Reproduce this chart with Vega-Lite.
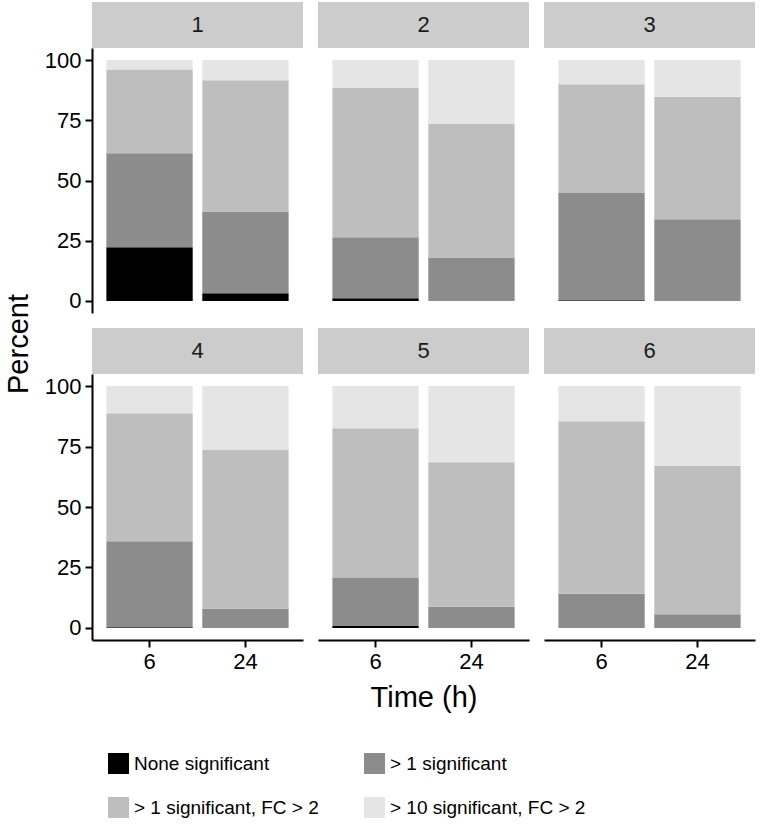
{
  "$schema": "https://vega.github.io/schema/vega-lite/v6.json",
  "padding": {"left": 5, "top": 2, "right": 5, "bottom": 5},
  "background": "white",
  "datasets": {
    "bars": [
      {"panel": 1, "time": 6, "category": "None significant", "value": 22.3},
      {"panel": 1, "time": 6, "category": "> 1 significant", "value": 39.0},
      {"panel": 1, "time": 6, "category": "> 1 significant, FC > 2", "value": 34.8},
      {"panel": 1, "time": 6, "category": "> 10 significant, FC > 2", "value": 3.9},
      {"panel": 1, "time": 24, "category": "None significant", "value": 3.2},
      {"panel": 1, "time": 24, "category": "> 1 significant", "value": 33.9},
      {"panel": 1, "time": 24, "category": "> 1 significant, FC > 2", "value": 54.5},
      {"panel": 1, "time": 24, "category": "> 10 significant, FC > 2", "value": 8.4},
      {"panel": 2, "time": 6, "category": "None significant", "value": 1.1},
      {"panel": 2, "time": 6, "category": "> 1 significant", "value": 25.3},
      {"panel": 2, "time": 6, "category": "> 1 significant, FC > 2", "value": 62.0},
      {"panel": 2, "time": 6, "category": "> 10 significant, FC > 2", "value": 11.6},
      {"panel": 2, "time": 24, "category": "None significant", "value": 0},
      {"panel": 2, "time": 24, "category": "> 1 significant", "value": 18.0},
      {"panel": 2, "time": 24, "category": "> 1 significant, FC > 2", "value": 55.6},
      {"panel": 2, "time": 24, "category": "> 10 significant, FC > 2", "value": 26.4},
      {"panel": 3, "time": 6, "category": "None significant", "value": 0.3},
      {"panel": 3, "time": 6, "category": "> 1 significant", "value": 44.5},
      {"panel": 3, "time": 6, "category": "> 1 significant, FC > 2", "value": 45.2},
      {"panel": 3, "time": 6, "category": "> 10 significant, FC > 2", "value": 10.0},
      {"panel": 3, "time": 24, "category": "None significant", "value": 0},
      {"panel": 3, "time": 24, "category": "> 1 significant", "value": 33.9},
      {"panel": 3, "time": 24, "category": "> 1 significant, FC > 2", "value": 50.9},
      {"panel": 3, "time": 24, "category": "> 10 significant, FC > 2", "value": 15.2},
      {"panel": 4, "time": 6, "category": "None significant", "value": 0.3},
      {"panel": 4, "time": 6, "category": "> 1 significant", "value": 35.5},
      {"panel": 4, "time": 6, "category": "> 1 significant, FC > 2", "value": 53.0},
      {"panel": 4, "time": 6, "category": "> 10 significant, FC > 2", "value": 11.2},
      {"panel": 4, "time": 24, "category": "None significant", "value": 0},
      {"panel": 4, "time": 24, "category": "> 1 significant", "value": 7.9},
      {"panel": 4, "time": 24, "category": "> 1 significant, FC > 2", "value": 65.9},
      {"panel": 4, "time": 24, "category": "> 10 significant, FC > 2", "value": 26.2},
      {"panel": 5, "time": 6, "category": "None significant", "value": 0.8},
      {"panel": 5, "time": 6, "category": "> 1 significant", "value": 19.8},
      {"panel": 5, "time": 6, "category": "> 1 significant, FC > 2", "value": 62.0},
      {"panel": 5, "time": 6, "category": "> 10 significant, FC > 2", "value": 17.4},
      {"panel": 5, "time": 24, "category": "None significant", "value": 0},
      {"panel": 5, "time": 24, "category": "> 1 significant", "value": 8.7},
      {"panel": 5, "time": 24, "category": "> 1 significant, FC > 2", "value": 59.8},
      {"panel": 5, "time": 24, "category": "> 10 significant, FC > 2", "value": 31.5},
      {"panel": 6, "time": 6, "category": "None significant", "value": 0},
      {"panel": 6, "time": 6, "category": "> 1 significant", "value": 14.1},
      {"panel": 6, "time": 6, "category": "> 1 significant, FC > 2", "value": 71.4},
      {"panel": 6, "time": 6, "category": "> 10 significant, FC > 2", "value": 14.5},
      {"panel": 6, "time": 24, "category": "None significant", "value": 0},
      {"panel": 6, "time": 24, "category": "> 1 significant", "value": 5.7},
      {"panel": 6, "time": 24, "category": "> 1 significant, FC > 2", "value": 61.4},
      {"panel": 6, "time": 24, "category": "> 10 significant, FC > 2", "value": 32.9}
    ],
    "panels": [
      {"panel": 1}, {"panel": 2}, {"panel": 3}, {"panel": 4}, {"panel": 5}, {"panel": 6}
    ]
  },
  "spacing": 10,
  "hconcat": [
    {
      "width": 28, "height": 684,
      "data": {"values": [{"label": "Percent"}]},
      "mark": {"type": "text", "angle": 270, "fontSize": 29, "color": "black"},
      "encoding": {"text": {"field": "label"}}
    },
    {
      "spacing": 15,
      "vconcat": [
        {
          "spacing": 0,
          "vconcat": [
            {
              "spacing": 15,
              "hconcat": [
                {"width": 211, "height": 46, "data": {"name": "panels"}, "transform": [{"filter": "datum.panel == 1"}],
                 "layer": [
                   {"mark": {"type": "rect", "color": "#cccccc"}, "encoding": {"x": {"datum": 0, "type": "quantitative", "scale": {"domain": [0, 1], "nice": false, "zero": false}, "axis": null}, "x2": {"datum": 1}, "y": {"datum": 0, "type": "quantitative", "scale": {"domain": [0, 1], "nice": false, "zero": false}, "axis": null}, "y2": {"datum": 1}}},
                   {"mark": {"type": "text", "fontSize": 22, "color": "#1a1a1a"}, "encoding": {"text": {"field": "panel"}}}
                 ]},
                {"width": 211, "height": 46, "data": {"name": "panels"}, "transform": [{"filter": "datum.panel == 2"}],
                 "layer": [
                   {"mark": {"type": "rect", "color": "#cccccc"}, "encoding": {"x": {"datum": 0, "type": "quantitative", "scale": {"domain": [0, 1], "nice": false, "zero": false}, "axis": null}, "x2": {"datum": 1}, "y": {"datum": 0, "type": "quantitative", "scale": {"domain": [0, 1], "nice": false, "zero": false}, "axis": null}, "y2": {"datum": 1}}},
                   {"mark": {"type": "text", "fontSize": 22, "color": "#1a1a1a"}, "encoding": {"text": {"field": "panel"}}}
                 ]},
                {"width": 211, "height": 46, "data": {"name": "panels"}, "transform": [{"filter": "datum.panel == 3"}],
                 "layer": [
                   {"mark": {"type": "rect", "color": "#cccccc"}, "encoding": {"x": {"datum": 0, "type": "quantitative", "scale": {"domain": [0, 1], "nice": false, "zero": false}, "axis": null}, "x2": {"datum": 1}, "y": {"datum": 0, "type": "quantitative", "scale": {"domain": [0, 1], "nice": false, "zero": false}, "axis": null}, "y2": {"datum": 1}}},
                   {"mark": {"type": "text", "fontSize": 22, "color": "#1a1a1a"}, "encoding": {"text": {"field": "panel"}}}
                 ]}
              ]
            },
            {
              "spacing": 15,
              "hconcat": [
                {"width": 211, "height": 265, "data": {"name": "bars"}, "transform": [{"filter": "datum.panel == 1"}, {"calculate": "indexof(['None significant', '> 1 significant', '> 1 significant, FC > 2', '> 10 significant, FC > 2'], datum.category)", "as": "stackIndex"}],
                 "mark": "bar",
                 "encoding": {
                   "x": {"field": "time", "type": "nominal", "sort": [6, 24], "scale": {"paddingInner": 0.1, "paddingOuter": 0.15}, "axis": null},
                   "y": {"field": "value", "type": "quantitative", "stack": "zero", "scale": {"domain": [-5, 105], "nice": false, "zero": false}, "axis": {"values": [0, 25, 50, 75, 100], "title": null}},
                   "order": {"field": "stackIndex", "type": "quantitative", "sort": "ascending"},
                   "color": {"field": "category", "type": "nominal", "title": null, "sort": ["None significant", "> 1 significant", "> 1 significant, FC > 2", "> 10 significant, FC > 2"], "scale": {"domain": ["None significant", "> 1 significant", "> 1 significant, FC > 2", "> 10 significant, FC > 2"], "range": ["#000000", "#8c8c8c", "#bebebe", "#e5e5e5"]}}
                 }},
                {"width": 211, "height": 265, "data": {"name": "bars"}, "transform": [{"filter": "datum.panel == 2"}, {"calculate": "indexof(['None significant', '> 1 significant', '> 1 significant, FC > 2', '> 10 significant, FC > 2'], datum.category)", "as": "stackIndex"}],
                 "mark": "bar",
                 "encoding": {
                   "x": {"field": "time", "type": "nominal", "sort": [6, 24], "scale": {"paddingInner": 0.1, "paddingOuter": 0.15}, "axis": null},
                   "y": {"field": "value", "type": "quantitative", "stack": "zero", "scale": {"domain": [-5, 105], "nice": false, "zero": false}, "axis": null},
                   "order": {"field": "stackIndex", "type": "quantitative", "sort": "ascending"},
                   "color": {"field": "category", "type": "nominal", "title": null, "sort": ["None significant", "> 1 significant", "> 1 significant, FC > 2", "> 10 significant, FC > 2"], "scale": {"domain": ["None significant", "> 1 significant", "> 1 significant, FC > 2", "> 10 significant, FC > 2"], "range": ["#000000", "#8c8c8c", "#bebebe", "#e5e5e5"]}}
                 }},
                {"width": 211, "height": 265, "data": {"name": "bars"}, "transform": [{"filter": "datum.panel == 3"}, {"calculate": "indexof(['None significant', '> 1 significant', '> 1 significant, FC > 2', '> 10 significant, FC > 2'], datum.category)", "as": "stackIndex"}],
                 "mark": "bar",
                 "encoding": {
                   "x": {"field": "time", "type": "nominal", "sort": [6, 24], "scale": {"paddingInner": 0.1, "paddingOuter": 0.15}, "axis": null},
                   "y": {"field": "value", "type": "quantitative", "stack": "zero", "scale": {"domain": [-5, 105], "nice": false, "zero": false}, "axis": null},
                   "order": {"field": "stackIndex", "type": "quantitative", "sort": "ascending"},
                   "color": {"field": "category", "type": "nominal", "title": null, "sort": ["None significant", "> 1 significant", "> 1 significant, FC > 2", "> 10 significant, FC > 2"], "scale": {"domain": ["None significant", "> 1 significant", "> 1 significant, FC > 2", "> 10 significant, FC > 2"], "range": ["#000000", "#8c8c8c", "#bebebe", "#e5e5e5"]}}
                 }}
              ]
            }
          ]
        },
        {
          "spacing": 0,
          "vconcat": [
            {
              "spacing": 15,
              "hconcat": [
                {"width": 211, "height": 46, "data": {"name": "panels"}, "transform": [{"filter": "datum.panel == 4"}],
                 "layer": [
                   {"mark": {"type": "rect", "color": "#cccccc"}, "encoding": {"x": {"datum": 0, "type": "quantitative", "scale": {"domain": [0, 1], "nice": false, "zero": false}, "axis": null}, "x2": {"datum": 1}, "y": {"datum": 0, "type": "quantitative", "scale": {"domain": [0, 1], "nice": false, "zero": false}, "axis": null}, "y2": {"datum": 1}}},
                   {"mark": {"type": "text", "fontSize": 22, "color": "#1a1a1a"}, "encoding": {"text": {"field": "panel"}}}
                 ]},
                {"width": 211, "height": 46, "data": {"name": "panels"}, "transform": [{"filter": "datum.panel == 5"}],
                 "layer": [
                   {"mark": {"type": "rect", "color": "#cccccc"}, "encoding": {"x": {"datum": 0, "type": "quantitative", "scale": {"domain": [0, 1], "nice": false, "zero": false}, "axis": null}, "x2": {"datum": 1}, "y": {"datum": 0, "type": "quantitative", "scale": {"domain": [0, 1], "nice": false, "zero": false}, "axis": null}, "y2": {"datum": 1}}},
                   {"mark": {"type": "text", "fontSize": 22, "color": "#1a1a1a"}, "encoding": {"text": {"field": "panel"}}}
                 ]},
                {"width": 211, "height": 46, "data": {"name": "panels"}, "transform": [{"filter": "datum.panel == 6"}],
                 "layer": [
                   {"mark": {"type": "rect", "color": "#cccccc"}, "encoding": {"x": {"datum": 0, "type": "quantitative", "scale": {"domain": [0, 1], "nice": false, "zero": false}, "axis": null}, "x2": {"datum": 1}, "y": {"datum": 0, "type": "quantitative", "scale": {"domain": [0, 1], "nice": false, "zero": false}, "axis": null}, "y2": {"datum": 1}}},
                   {"mark": {"type": "text", "fontSize": 22, "color": "#1a1a1a"}, "encoding": {"text": {"field": "panel"}}}
                 ]}
              ]
            },
            {
              "spacing": 15,
              "hconcat": [
                {"width": 211, "height": 266, "data": {"name": "bars"}, "transform": [{"filter": "datum.panel == 4"}, {"calculate": "indexof(['None significant', '> 1 significant', '> 1 significant, FC > 2', '> 10 significant, FC > 2'], datum.category)", "as": "stackIndex"}],
                 "mark": "bar",
                 "encoding": {
                   "x": {"field": "time", "type": "nominal", "sort": [6, 24], "scale": {"paddingInner": 0.1, "paddingOuter": 0.15}, "axis": {"labelAngle": 0, "title": null}},
                   "y": {"field": "value", "type": "quantitative", "stack": "zero", "scale": {"domain": [-5, 105], "nice": false, "zero": false}, "axis": {"values": [0, 25, 50, 75, 100], "title": null}},
                   "order": {"field": "stackIndex", "type": "quantitative", "sort": "ascending"},
                   "color": {"field": "category", "type": "nominal", "title": null, "sort": ["None significant", "> 1 significant", "> 1 significant, FC > 2", "> 10 significant, FC > 2"], "scale": {"domain": ["None significant", "> 1 significant", "> 1 significant, FC > 2", "> 10 significant, FC > 2"], "range": ["#000000", "#8c8c8c", "#bebebe", "#e5e5e5"]}}
                 }},
                {"width": 211, "height": 266, "data": {"name": "bars"}, "transform": [{"filter": "datum.panel == 5"}, {"calculate": "indexof(['None significant', '> 1 significant', '> 1 significant, FC > 2', '> 10 significant, FC > 2'], datum.category)", "as": "stackIndex"}],
                 "mark": "bar",
                 "encoding": {
                   "x": {"field": "time", "type": "nominal", "sort": [6, 24], "scale": {"paddingInner": 0.1, "paddingOuter": 0.15}, "axis": {"labelAngle": 0, "title": "Time (h)"}},
                   "y": {"field": "value", "type": "quantitative", "stack": "zero", "scale": {"domain": [-5, 105], "nice": false, "zero": false}, "axis": null},
                   "order": {"field": "stackIndex", "type": "quantitative", "sort": "ascending"},
                   "color": {"field": "category", "type": "nominal", "title": null, "sort": ["None significant", "> 1 significant", "> 1 significant, FC > 2", "> 10 significant, FC > 2"], "scale": {"domain": ["None significant", "> 1 significant", "> 1 significant, FC > 2", "> 10 significant, FC > 2"], "range": ["#000000", "#8c8c8c", "#bebebe", "#e5e5e5"]}}
                 }},
                {"width": 211, "height": 266, "data": {"name": "bars"}, "transform": [{"filter": "datum.panel == 6"}, {"calculate": "indexof(['None significant', '> 1 significant', '> 1 significant, FC > 2', '> 10 significant, FC > 2'], datum.category)", "as": "stackIndex"}],
                 "mark": "bar",
                 "encoding": {
                   "x": {"field": "time", "type": "nominal", "sort": [6, 24], "scale": {"paddingInner": 0.1, "paddingOuter": 0.15}, "axis": {"labelAngle": 0, "title": null}},
                   "y": {"field": "value", "type": "quantitative", "stack": "zero", "scale": {"domain": [-5, 105], "nice": false, "zero": false}, "axis": null},
                   "order": {"field": "stackIndex", "type": "quantitative", "sort": "ascending"},
                   "color": {"field": "category", "type": "nominal", "title": null, "sort": ["None significant", "> 1 significant", "> 1 significant, FC > 2", "> 10 significant, FC > 2"], "scale": {"domain": ["None significant", "> 1 significant", "> 1 significant, FC > 2", "> 10 significant, FC > 2"], "range": ["#000000", "#8c8c8c", "#bebebe", "#e5e5e5"]}}
                 }}
              ]
            }
          ]
        }
      ]
    }
  ],
  "config": {
    "font": "Liberation Sans",
    "view": {"stroke": null},
    "axis": {
      "grid": false,
      "domainColor": "black", "domainWidth": 2,
      "tickColor": "black", "tickWidth": 2, "tickSize": 7,
      "labelColor": "black", "labelFontSize": 22, "labelPadding": 4, "labelFont": "Liberation Sans",
      "titleColor": "black", "titleFontSize": 29, "titleFontWeight": "normal", "titleFont": "Liberation Sans", "titlePadding": 11
    },
    "legend": {
      "orient": "none", "legendX": 103, "legendY": 751, "columns": 2, "direction": "horizontal",
      "symbolType": "square", "symbolSize": 441, "symbolStrokeWidth": 0, "symbolOpacity": 1,
      "labelFontSize": 19, "labelColor": "black", "labelFont": "Liberation Sans", "labelOffset": 5,
      "columnPadding": 45, "rowPadding": 23, "labelLimit": 400
    }
  }
}
